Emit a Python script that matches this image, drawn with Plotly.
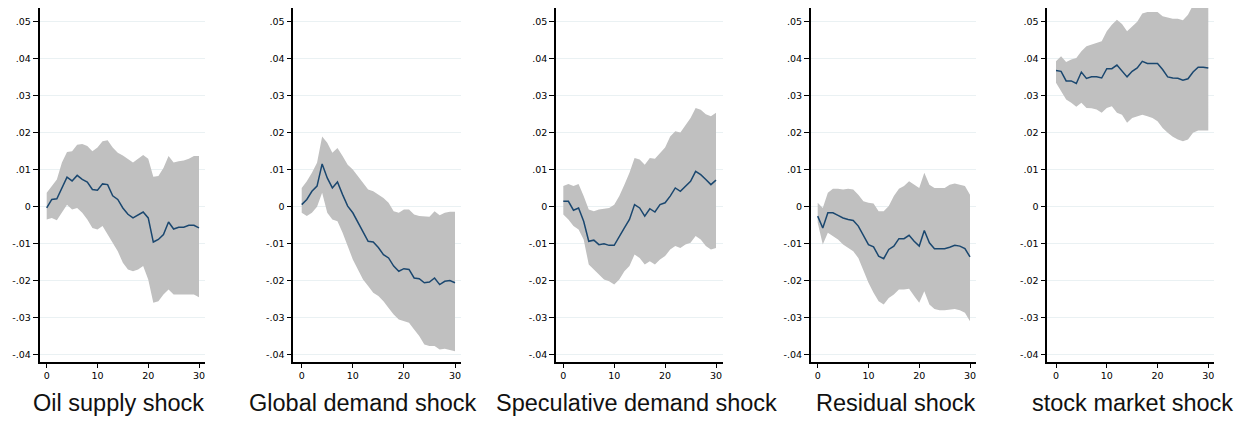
import plotly.graph_objects as go

# ---------------- data ----------------
horizon = list(range(31))

panel_titles = ["Oil supply shock", "Global demand shock", "Speculative demand shock",
                "Residual shock", "stock market shock"]

y_tick_vals = [0.05, 0.04, 0.03, 0.02, 0.01, 0.0, -0.01, -0.02, -0.03, -0.04]
y_tick_text = [".05", ".04", ".03", ".02", ".01", "0", "-.01", "-.02", "-.03", "-.04"]
x_tick_vals = [0, 10, 20, 30]
x_tick_text = ["0", "10", "20", "30"]

oil_mid = [-0.0003, 0.002, 0.0022, 0.005, 0.008, 0.007, 0.0085, 0.0074, 0.0067, 0.0047,
           0.0045, 0.0062, 0.006, 0.003, 0.002, -0.0003, -0.002, -0.003, -0.0023, -0.0014,
           -0.003, -0.0095, -0.0088, -0.0075, -0.0041, -0.006, -0.0055, -0.0055, -0.005, -0.005,
           -0.0057]
oil_hi = [0.0038, 0.0056, 0.0074, 0.012, 0.0148, 0.015, 0.0168, 0.017, 0.0164, 0.015,
          0.016, 0.0177, 0.018, 0.016, 0.0146, 0.0139, 0.013, 0.012, 0.013, 0.014,
          0.013, 0.0081, 0.0083, 0.0105, 0.0137, 0.012, 0.0123, 0.0125, 0.013, 0.0137,
          0.0137]
oil_lo = [-0.0034, -0.003, -0.0036, -0.0016, 0.0006, -0.0007, -0.0003, -0.0016, -0.0034, -0.0057,
          -0.0061, -0.0052, -0.0075, -0.0097, -0.012, -0.0151, -0.0169, -0.0174, -0.0169, -0.016,
          -0.0196, -0.0259, -0.0255, -0.0237, -0.0223, -0.0237, -0.0237, -0.0235, -0.0235, -0.0237,
          -0.0244]

glob_mid = [0.0006, 0.002, 0.0042, 0.0056, 0.0116, 0.0078, 0.0051, 0.0067, 0.0033, 0.0002,
            -0.0016, -0.0043, -0.0066, -0.0093, -0.0095, -0.011, -0.0129, -0.0138, -0.016, -0.0174,
            -0.0167, -0.0169, -0.0192, -0.0194, -0.0205, -0.0203, -0.0192, -0.021, -0.0201, -0.0199,
            -0.0205]
glob_hi = [0.0051, 0.0069, 0.0092, 0.0119, 0.019, 0.0173, 0.0146, 0.0159, 0.0137, 0.0114,
           0.0101, 0.0083, 0.0067, 0.0047, 0.0042, 0.0033, 0.0024, 0.0011, -0.0012, -0.0016,
           -0.0007, -0.0007, -0.0021, -0.0025, -0.0025, -0.0027, -0.0012, -0.0023, -0.0016, -0.0013,
           -0.0013]
glob_lo = [-0.0016, -0.0025, -0.0016, 0.0, 0.0038, -0.0016, -0.0034, -0.0039, -0.007, -0.0106,
           -0.0142, -0.0169, -0.0196, -0.0214, -0.0232, -0.0241, -0.0255, -0.0273, -0.0291, -0.0304,
           -0.0309, -0.0313, -0.0331, -0.0349, -0.0372, -0.0376, -0.0376, -0.0385, -0.0383, -0.0387,
           -0.039]

spec_mid = [0.0015, 0.0015, -0.0009, -0.0003, -0.0039, -0.0093, -0.009, -0.0102, -0.01, -0.0104,
            -0.0104, -0.0079, -0.0057, -0.0034, 0.0006, -0.0003, -0.0025, -0.0005, -0.0014, 0.0006,
            0.0011, 0.0029, 0.0051, 0.0042, 0.0056, 0.0069, 0.0096, 0.0087, 0.0074, 0.006,
            0.0072]
spec_hi = [0.0056, 0.0062, 0.0056, 0.0062, 0.0029, -0.0007, -0.0012, -0.0007, -0.0005, -0.0003,
           0.0006, 0.0029, 0.006, 0.0092, 0.0132, 0.0128, 0.0114, 0.0132, 0.013, 0.0146,
           0.016, 0.019, 0.0204, 0.0201, 0.0222, 0.024, 0.0267, 0.0262, 0.025, 0.0245,
           0.0254]
spec_lo = [-0.0021, -0.0034, -0.0052, -0.0061, -0.0088, -0.0156, -0.0169, -0.0183, -0.0196, -0.0201,
           -0.021, -0.0196, -0.0174, -0.016, -0.0129, -0.0138, -0.0156, -0.0147, -0.0156, -0.0142,
           -0.0133, -0.0115, -0.0106, -0.0111, -0.0102, -0.0097, -0.0079, -0.0088, -0.0106, -0.0115,
           -0.0111]

resid_mid = [-0.0025, -0.0057, -0.0016, -0.0016, -0.0023, -0.003, -0.0034, -0.0037, -0.0052, -0.0079,
             -0.0102, -0.0108, -0.0133, -0.014, -0.0115, -0.0106, -0.0086, -0.0086, -0.0077, -0.0093,
             -0.0106, -0.0064, -0.0097, -0.0113, -0.0113, -0.0113, -0.0109, -0.0104, -0.0106, -0.0113,
             -0.0135]
resid_hi = [0.0011, -0.0003, 0.0038, 0.0049, 0.0049, 0.0047, 0.0049, 0.0047, 0.0033, 0.0015,
            0.0011, 0.0009, -0.0012, -0.0012, 0.0002, 0.0029, 0.0049, 0.0056, 0.0069, 0.006,
            0.0051, 0.0092, 0.006, 0.0051, 0.0051, 0.0051, 0.006, 0.0063, 0.006, 0.0056,
            0.0033]
resid_lo = [-0.0043, -0.0102, -0.007, -0.0079, -0.0088, -0.0102, -0.0111, -0.012, -0.0138, -0.0174,
            -0.0205, -0.0232, -0.0255, -0.0264, -0.0246, -0.0237, -0.0223, -0.0223, -0.0221, -0.0241,
            -0.0259, -0.0228, -0.0264, -0.0276, -0.0279, -0.0279, -0.0278, -0.0276, -0.0279, -0.0286,
            -0.0309]

stock_mid = [0.0368, 0.0366, 0.034, 0.034, 0.0333, 0.0364, 0.0347, 0.0351, 0.0351, 0.0348,
             0.0373, 0.0373, 0.0383, 0.0366, 0.0351, 0.0366, 0.0375, 0.0393, 0.0387, 0.0387,
             0.0387, 0.0371, 0.0351, 0.0348, 0.0347, 0.0342, 0.0346, 0.0364, 0.0377, 0.0377,
             0.0375]
stock_hi = [0.0393, 0.0407, 0.0391, 0.0398, 0.0402, 0.042, 0.0434, 0.0438, 0.0443, 0.0447,
            0.0474, 0.0492, 0.0505, 0.0494, 0.0474, 0.0486, 0.05, 0.0522, 0.0526, 0.0526,
            0.0526, 0.0515, 0.0511, 0.0508, 0.0508, 0.0504, 0.0519, 0.0545, 0.056, 0.0565,
            0.0565]
stock_lo = [0.0335, 0.0312, 0.029, 0.0281, 0.027, 0.0281, 0.0267, 0.0266, 0.0263, 0.0254,
            0.0267, 0.0272, 0.0254, 0.0249, 0.0227, 0.024, 0.0245, 0.0249, 0.0245, 0.024,
            0.0231, 0.0213, 0.02, 0.0189, 0.0182, 0.0177, 0.0182, 0.02, 0.0206, 0.0206,
            0.0206]

series = [(oil_mid, oil_hi, oil_lo), (glob_mid, glob_hi, glob_lo), (spec_mid, spec_hi, spec_lo),
          (resid_mid, resid_hi, resid_lo), (stock_mid, stock_hi, stock_lo)]

# ---------------- layout geometry (page pixels) ----------------
PAGE_W, PAGE_H = 1254, 423
OFF = 8  # default body margin of the html page
W, H = PAGE_W - OFF, PAGE_H - OFF

axis_left_px = [39.5, 293.3, 556.0, 810.7, 1047.3]
axis_right_px = [205.0, 460.7, 722.7, 976.0, 1214.3]
tick0_px = [46.7, 301.7, 563.3, 817.7, 1056.0]
tick30_px = [199.0, 455.0, 716.0, 970.0, 1208.3]
title_center_px = [118, 363, 636, 896, 1132]
title_mid_y_px = 403
plot_top_px, plot_bottom_px = 8, 362
y_range = [-0.0419, 0.0537]

BAND = "#c0c0c0"
LINE = "#1a476f"
FONT = "Liberation Sans, Arial, sans-serif"
TICKFONT = "DejaVu Sans, Liberation Sans, sans-serif"


def px_x(p):
    return (p - OFF) / W


def px_y(p):
    return 1 - (p - OFF) / H


fig = go.Figure()
layout = dict(
    width=W, height=H,
    margin=dict(l=0, r=0, t=0, b=0),
    paper_bgcolor="white", plot_bgcolor="white",
    showlegend=False,
    font=dict(family=FONT, color="#1a1a1a"),
)

annotations = []
for i, (mid, hi, lo) in enumerate(series):
    n = i + 1
    xa = "x" if n == 1 else f"x{n}"
    ya = "y" if n == 1 else f"y{n}"
    fig.add_trace(go.Scatter(x=horizon, y=hi, mode="lines", line=dict(width=0, color=BAND),
                             xaxis=xa, yaxis=ya, hoverinfo="skip"))
    fig.add_trace(go.Scatter(x=horizon, y=lo, mode="lines", line=dict(width=0, color=BAND),
                             fill="tonexty", fillcolor=BAND, xaxis=xa, yaxis=ya, hoverinfo="skip"))
    fig.add_trace(go.Scatter(x=horizon, y=mid, mode="lines", line=dict(width=1.5, color=LINE),
                             xaxis=xa, yaxis=ya))

    unit = (tick30_px[i] - tick0_px[i]) / 30.0
    xr = [-(tick0_px[i] - axis_left_px[i]) / unit, 30 + (axis_right_px[i] - tick30_px[i]) / unit]
    dom_x = [max(0, px_x(axis_left_px[i])), min(1, px_x(axis_right_px[i]))]
    dom_y = [px_y(plot_bottom_px), min(1, px_y(plot_top_px))]

    xkey = "xaxis" if n == 1 else f"xaxis{n}"
    ykey = "yaxis" if n == 1 else f"yaxis{n}"
    layout[xkey] = dict(
        domain=dom_x, range=xr, anchor=ya,
        showline=True, linecolor="black", linewidth=1.6,
        ticks="outside", ticklen=4, tickwidth=1.2, tickcolor="black",
        tickvals=x_tick_vals, ticktext=x_tick_text,
        tickfont=dict(size=9.5, color="#000000", family=TICKFONT),
        showgrid=False, zeroline=False, fixedrange=True,
    )
    layout[ykey] = dict(
        domain=dom_y, range=y_range, anchor=xa,
        showline=True, linecolor="black", linewidth=1.6,
        ticks="outside", ticklen=5, tickwidth=1.2, tickcolor="black",
        tickvals=y_tick_vals, ticktext=y_tick_text,
        tickfont=dict(size=9.5, color="#000000", family=TICKFONT),
        showgrid=True, gridcolor="#eaf1f3", gridwidth=1,
        zeroline=False, fixedrange=True,
    )
    annotations.append(dict(
        text=panel_titles[i], x=px_x(title_center_px[i]), y=px_y(title_mid_y_px),
        xref="paper", yref="paper", xanchor="center", yanchor="middle",
        showarrow=False, font=dict(size=23.5, color="#111111", family=FONT),
    ))

layout["annotations"] = annotations
fig.update_layout(**layout)
fig.write_html("out.html")
